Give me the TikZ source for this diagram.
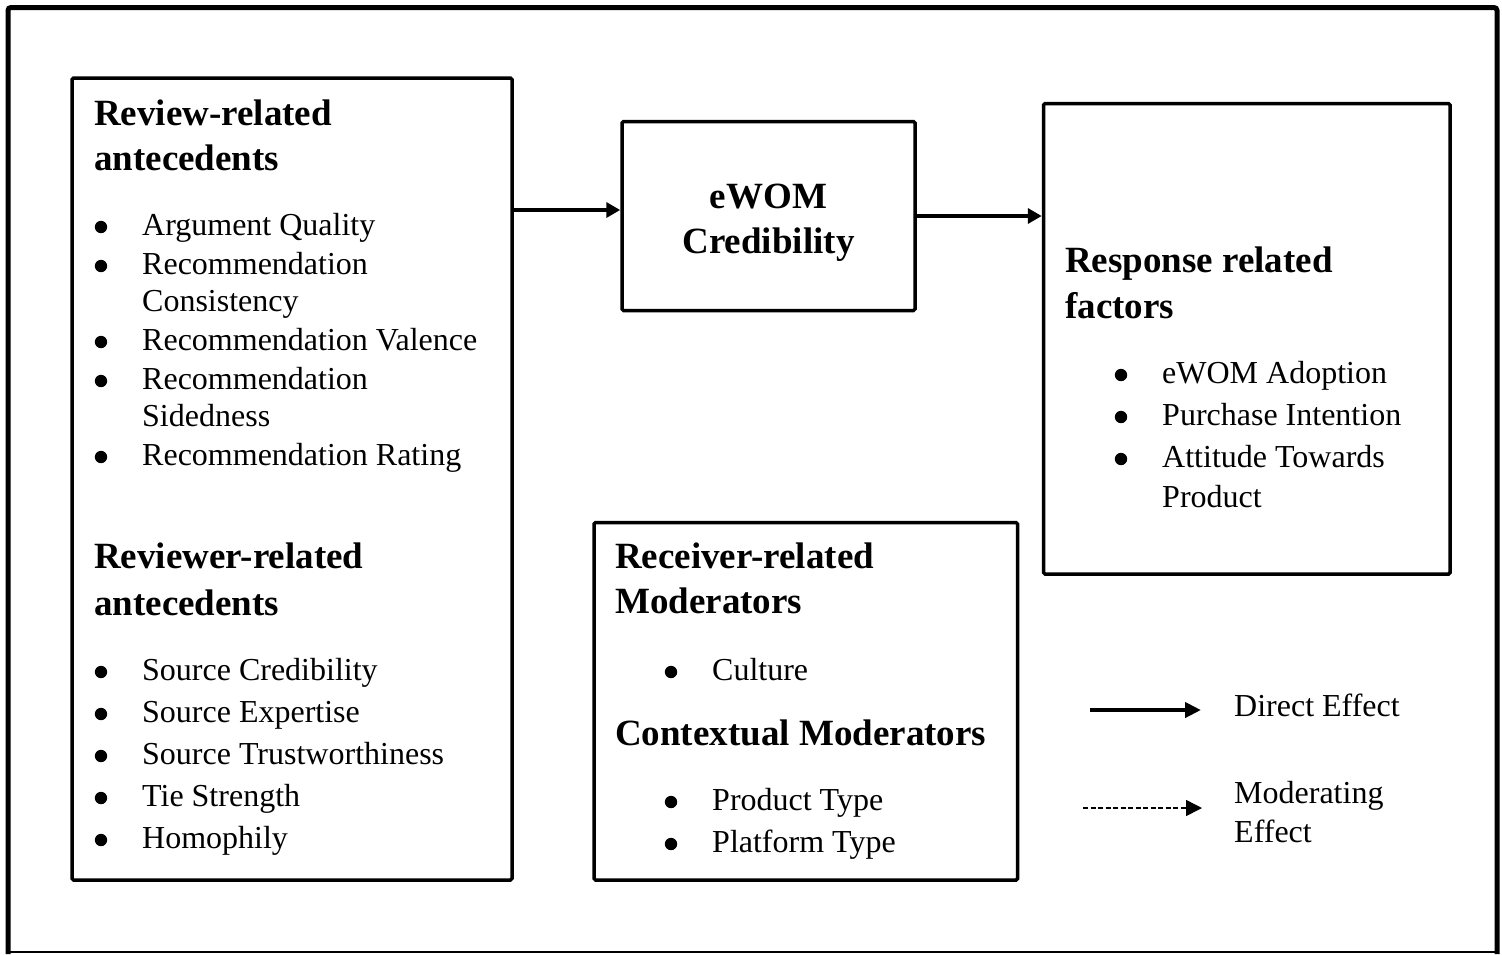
\documentclass[tikz,border=0pt]{standalone}
\usepackage{fontspec}
\setmainfont{Liberation Serif}
\usetikzlibrary{arrows.meta}
\newcommand\bulitem[1]{\hspace*{49pt}#1}
\begin{document}
\begin{tikzpicture}[x=1pt,y=-1pt,
  box/.style={draw, line width=3.5pt, inner sep=0pt, rounded corners=1.5pt},
  txt/.style={anchor=base west, inner sep=0pt, font=\fontsize{32}{38}\selectfont},
  hd/.style={anchor=base west, inner sep=0pt, font=\fontsize{37}{46}\selectfont\bfseries},
  hdc/.style={anchor=base, inner sep=0pt, font=\fontsize{37}{46}\selectfont\bfseries},
  arr/.style={line width=3.5pt, -{Triangle[length=14pt,width=15pt]}},
]
\useasboundingbox (0,0) rectangle (1502,954);
\fill[white] (0,0) rectangle (1502,954);
% outer frame
\draw[line width=5pt, rounded corners=3pt] (8,954) -- (8,7.5) -- (1497,7.5) -- (1497,954);
\draw[line width=2pt] (8,952) -- (1497,952);

% boxes
\node[box, minimum width=440pt, minimum height=802pt] (b1) at (292,479) {};
\node[box, minimum width=293pt, minimum height=189pt] (e) at (768.5,216) {};
\node[box, minimum width=406.5pt, minimum height=470.5pt] (r) at (1246.75,338.75) {};
\node[box, minimum width=423.5pt, minimum height=357.5pt] (m) at (805.75,701.25) {};

% arrows
\coordinate (a1e) at ([yshift=6pt]e.west);
\draw[arr] (b1.east |- a1e) -- (a1e);
\draw[arr] (e.east) -- (r.west |- e.east);

% box 1 text
\node[hd] (h1a) at (94,125) {Review-related};
\node[hd] (h1b) at (94,170) {antecedents};
\node[txt] (i1) at (93,235) {\bulitem{Argument Quality}};
\node[txt] (i2) at (93,274) {\bulitem{Recommendation}};
\node[txt] (i2b) at (142,311) {Consistency};
\node[txt] (i3) at (93,350) {\bulitem{Recommendation Valence}};
\node[txt] (i4) at (93,389) {\bulitem{Recommendation}};
\node[txt] (i4b) at (142,426) {Sidedness};
\node[txt] (i5) at (93,465) {\bulitem{Recommendation Rating}};
\node[hd] (h2a) at (94,568) {Reviewer-related};
\node[hd] (h2b) at (94,615) {antecedents};
\node[txt] (j1) at (93,680) {\bulitem{Source Credibility}};
\node[txt] (j2) at (93,722) {\bulitem{Source Expertise}};
\node[txt] (j3) at (93,764) {\bulitem{Source Trustworthiness}};
\node[txt] (j4) at (93,806) {\bulitem{Tie Strength}};
\node[txt] (j5) at (93,848) {\bulitem{Homophily}};

% eWOM box text
\node[hdc] (ea) at (768.5,208) {eWOM};
\node[hdc] (eb) at (768.5,253) {Credibility};

% response box text
\node[hd] (ra) at (1065,272) {Response related};
\node[hd] (rb) at (1065,318) {factors};
\node[txt] (k1) at (1113,383) {\bulitem{eWOM Adoption}};
\node[txt] (k2) at (1113,425) {\bulitem{Purchase Intention}};
\node[txt] (k3) at (1113,467) {\bulitem{Attitude Towards}};
\node[txt] (k3b) at (1162,507) {Product};

% moderator box text
\node[hd] (ma) at (615,568) {Receiver-related};
\node[hd] (mb) at (615,613) {Moderators};
\node[txt] (l1) at (663,680) {\bulitem{Culture}};
\node[hd] (mc) at (615,745) {Contextual Moderators};
\node[txt] (l2) at (663,810) {\bulitem{Product Type}};
\node[txt] (l3) at (663,852) {\bulitem{Platform Type}};

% bullets
\foreach \n in {i1,i2,i3,i4,i5,j1,j2,j3,j4,j5,k1,k2,k3,l1,l2,l3}
  \fill ([xshift=8pt,yshift=8pt]\n.base west) circle (6.2pt);

% legend
\coordinate (d1) at (1090,710);
\coordinate (d2) at (1201,710);
\draw[line width=4.5pt, -{Triangle[length=16pt,width=15pt]}] (d1) -- (d2);
\coordinate (mm1) at (1083,808);
\coordinate (mm2) at (1202,808);
\draw[line width=1.5pt, dash pattern=on 5pt off 2.5pt, -{Triangle[length=16pt,width=16pt]}] (mm1) -- (mm2);
\node[txt] (lg1) at (1234,716) {Direct Effect};
\node[txt] (lg2) at (1234,803) {Moderating};
\node[txt] (lg3) at (1234,842) {Effect};
\end{tikzpicture}
\end{document}
